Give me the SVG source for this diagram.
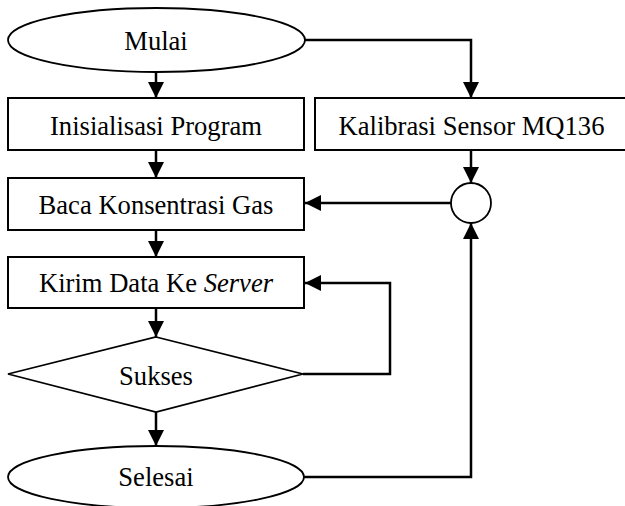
<svg xmlns="http://www.w3.org/2000/svg" width="625" height="506" viewBox="0 0 625 506">
  <style>
    .shape { fill: #ffffff; stroke: #000000; stroke-width: 2; }
    .term { fill: #ffffff; stroke: #000000; stroke-width: 1.8; }
    .label { font-size: 26.6px; fill: #000000; text-anchor: middle; }
    .flow { fill: none; stroke: #000000; stroke-width: 2.5; marker-end: url(#arrow); }
  </style>
  <defs>
    <marker id="arrow" markerUnits="userSpaceOnUse" markerWidth="16" markerHeight="16" viewBox="0 0 16 16" refX="16" refY="8" orient="auto">
      <path d="M0,0 L16,8 L0,16 Z" fill="#000000"/>
    </marker>
  </defs>

  <rect width="625" height="506" fill="#ffffff"/>

  <g id="connectors">
    <!-- main column -->
    <line class="flow" x1="156" y1="72" x2="156" y2="98"/>
    <line class="flow" x1="156" y1="150" x2="156" y2="178"/>
    <line class="flow" x1="156" y1="230" x2="156" y2="257"/>
    <line class="flow" x1="156" y1="308" x2="156" y2="337"/>
    <line class="flow" x1="156" y1="412" x2="156" y2="446"/>
    <!-- start to calibration -->
    <polyline class="flow" points="305,40 471,40 471,98"/>
    <!-- calibration to junction -->
    <line class="flow" x1="471" y1="150" x2="471" y2="183"/>
    <!-- junction to read -->
    <line class="flow" x1="451" y1="203" x2="305" y2="203"/>
    <!-- retry loop -->
    <polyline class="flow" points="303,374 390,374 390,283 305,283"/>
    <!-- end back to junction -->
    <polyline class="flow" points="304,477 471,477 471,223"/>
  </g>

  <g id="nodes" font-family="'Liberation Serif', 'DejaVu Serif', serif">
    <g id="mulai">
      <ellipse class="term" cx="156.5" cy="40" rx="148.5" ry="32"/>
      <text class="label" x="156" y="50">Mulai</text>
    </g>

    <g id="inisialisasi">
      <rect class="shape" x="8" y="98" width="296" height="52"/>
      <text class="label" x="156" y="135">Inisialisasi Program</text>
    </g>

    <g id="kalibrasi">
      <rect class="shape" x="315" y="98" width="314" height="52"/>
      <text class="label" x="471.5" y="135">Kalibrasi Sensor MQ136</text>
    </g>

    <g id="junction">
      <circle class="term" cx="471" cy="203" r="20"/>
    </g>

    <g id="baca">
      <rect class="shape" x="8" y="178" width="296" height="52"/>
      <text class="label" x="156" y="214">Baca Konsentrasi Gas</text>
    </g>

    <g id="kirim">
      <rect class="shape" x="8" y="257" width="296" height="51"/>
      <text class="label" x="156" y="292">Kirim Data Ke <tspan font-style="italic">Server</tspan></text>
    </g>

    <g id="sukses">
      <polygon class="term" points="156,337 303,374 156,412 8,374"/>
      <text class="label" x="156" y="385">Sukses</text>
    </g>

    <g id="selesai">
      <ellipse class="term" cx="156" cy="477" rx="148" ry="31"/>
      <text class="label" x="156" y="486">Selesai</text>
    </g>
  </g>
</svg>
